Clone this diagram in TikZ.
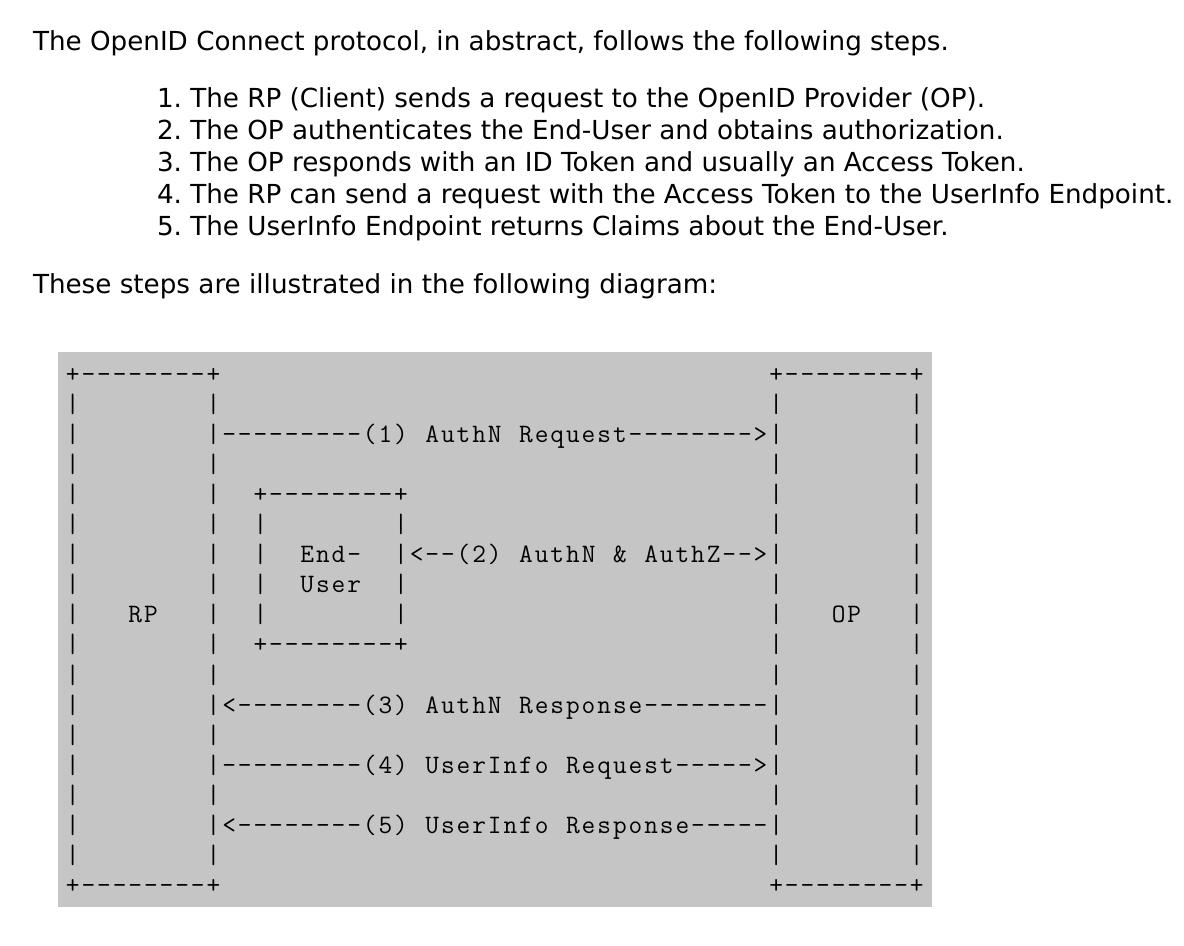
\documentclass[tikz,border=0pt]{standalone}
\usepackage{fontspec}
\setmainfont{DejaVu Sans}
\definecolor{panel}{RGB}{197,197,197}
\newlength\cellw
\setlength\cellw{7.815pt}
\ExplSyntaxOn
\NewDocumentCommand\monostr{m}{ \str_map_inline:nn {#1} { \makebox[\cellw][c]{##1} } }
\ExplSyntaxOff
\newcommand\asc[4]{\node[ascii] (#1) at ({65+15.63*#2},{383+30*(#3-1)}) {\monostr{#4}};}
\newcommand\sidebars[2]{%
  \asc{#1a}{0}{#2}{|}\asc{#1b}{9}{#2}{|}\asc{#1c}{45}{#2}{|}\asc{#1d}{54}{#2}{|}}
\begin{document}
\begin{tikzpicture}[x=0.5pt,y=-0.5pt,
  body/.style={anchor=base west, inner sep=0pt, outer sep=0pt,
    font=\fontsize{13.1}{15}\selectfont\frenchspacing},
  ascii/.style={anchor=base west, inner sep=0pt, outer sep=0pt,
    font=\ttfamily\fontsize{13.3}{15}\selectfont}]
\useasboundingbox (0,0) rectangle (1184,946);
\fill[white] (0,0) rectangle (1184,946);
\fill[panel] (58,352) rectangle (932,907);

\node[body] (intro) at (33,51) {The OpenID Connect protocol, in abstract, follows the following steps.};
\node[body] (s1) at (157,108) {1. The RP (Client) sends a request to the OpenID Provider (OP).};
\node[body] (s2) at (157,140) {2. The OP authenticates the End-User and obtains authorization.};
\node[body] (s3) at (157,172) {3. The OP responds with an ID Token and usually an Access Token.};
\node[body] (s4) at (157,204) {4. The RP can send a request with the Access Token to the UserInfo Endpoint.};
\node[body] (s5) at (157,236) {5. The UserInfo Endpoint returns Claims about the End-User.};
\node[body] (these) at (33,294) {These steps are illustrated in the following diagram:};

% row 1
\asc{rpTop}{0}{1}{+--------+}
\asc{opTop}{45}{1}{+--------+}
% row 2
\sidebars{rB}{2}
% row 3
\asc{rCa}{0}{3}{|}
\asc{m1}{9}{3}{|---------(1) AuthN Request-------->|}
\asc{rCd}{54}{3}{|}
% row 4
\sidebars{rD}{4}
% row 5
\sidebars{rE}{5}
\asc{euTop}{12}{5}{+--------+}
% row 6
\sidebars{rF}{6}
\asc{rFe}{12}{6}{|}\asc{rFf}{21}{6}{|}
% row 7
\asc{rGa}{0}{7}{|}\asc{rGb}{9}{7}{|}\asc{rGe}{12}{7}{|}
\asc{eu1}{15}{7}{End-}
\asc{m2}{21}{7}{|<--(2) AuthN & AuthZ-->|}
\asc{rGd}{54}{7}{|}
% row 8
\sidebars{rH}{8}
\asc{rHe}{12}{8}{|}\asc{eu2}{15}{8}{User}\asc{rHf}{21}{8}{|}
% row 9
\sidebars{rI}{9}
\asc{rp}{4}{9}{RP}
\asc{rIe}{12}{9}{|}\asc{rIf}{21}{9}{|}
\asc{op}{49}{9}{OP}
% row 10
\sidebars{rJ}{10}
\asc{euBot}{12}{10}{+--------+}
% row 11
\sidebars{rK}{11}
% row 12
\asc{rLa}{0}{12}{|}
\asc{m3}{9}{12}{|<--------(3) AuthN Response--------|}
\asc{rLd}{54}{12}{|}
% row 13
\sidebars{rM}{13}
% row 14
\asc{rNa}{0}{14}{|}
\asc{m4}{9}{14}{|---------(4) UserInfo Request----->|}
\asc{rNd}{54}{14}{|}
% row 15
\sidebars{rO}{15}
% row 16
\asc{rPa}{0}{16}{|}
\asc{m5}{9}{16}{|<--------(5) UserInfo Response-----|}
\asc{rPd}{54}{16}{|}
% row 17
\sidebars{rQ}{17}
% row 18
\asc{rpBot}{0}{18}{+--------+}
\asc{opBot}{45}{18}{+--------+}
\end{tikzpicture}
\end{document}
